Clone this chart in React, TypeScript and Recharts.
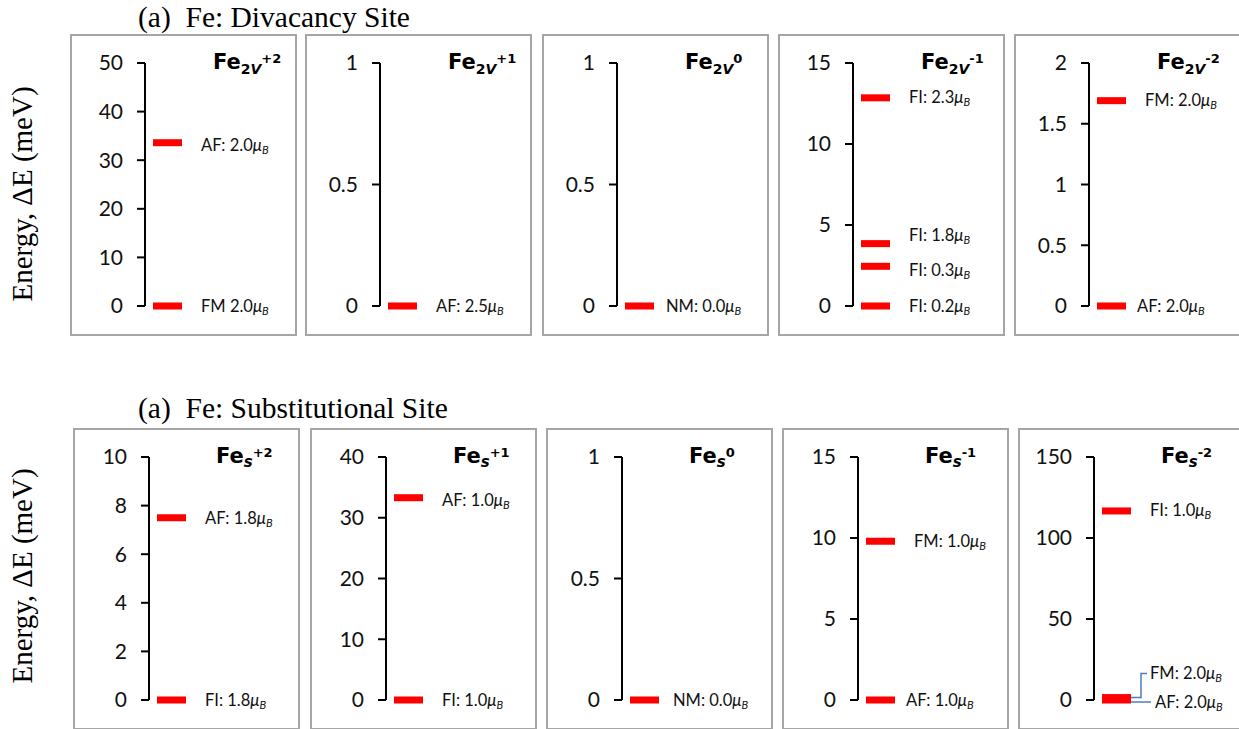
import React from 'react';
import { ScatterChart, Scatter, XAxis, YAxis } from 'recharts';

// Divacancy site (top row)
const divCharges = ['+2', '+1', '0', '-1', '-2'];
const divTicks = [
  [0, 10, 20, 30, 40, 50],
  [0, 0.5, 1],
  [0, 0.5, 1],
  [0, 5, 10, 15],
  [0, 0.5, 1, 1.5, 2],
];
const divEnergies = [[0, 33.6], [0], [0], [0, 2.45, 3.85, 12.85], [0, 1.69]];
const divLabels = [
  ['FM 2.0', 'AF: 2.0'],
  ['AF: 2.5'],
  ['NM: 0.0'],
  ['FI: 0.2', 'FI: 0.3', 'FI: 1.8', 'FI: 2.3'],
  ['AF: 2.0', 'FM: 2.0'],
];

// Substitutional site (bottom row)
const subCharges = ['+2', '+1', '0', '-1', '-2'];
const subTicks = [
  [0, 2, 4, 6, 8, 10],
  [0, 10, 20, 30, 40],
  [0, 0.5, 1],
  [0, 5, 10, 15],
  [0, 50, 100, 150],
];
const subEnergies = [[0, 7.5], [0, 33.3], [0], [0, 9.8], [0, 1.5, 116.7]];
const subLabels = [
  ['FI: 1.8', 'AF: 1.8'],
  ['FI: 1.0', 'AF: 1.0'],
  ['NM: 0.0'],
  ['AF: 1.0', 'FM: 1.0'],
  ['AF: 2.0', 'FM: 2.0', 'FI: 1.0'],
];

// hand-moved data labels (dx, dy) and the ones with leader lines
const LABEL_NUDGE: Record<string, [number, number]> = {
  'div-0-1': [0, 3],
  'div-2-0': [-7, 0],
  'div-3-1': [0, 4],
  'div-3-2': [0, -8],
  'div-4-0': [-8, 0],
  'sub-0-1': [0, 1],
  'sub-1-1': [0, 3],
  'sub-2-0': [-5, 0],
  'sub-3-0': [-8, 0],
  'sub-4-0': [5, 2],
  'sub-4-1': [0, -24],
};
const LEADERS = ['sub-4-0', 'sub-4-1'];

const FONT = 'Lato, "Open Sans", sans-serif';
const SERIF = '"Liberation Serif", "Times New Roman", serif';
const PANEL_W = 227;
const PANEL_H = 302;

const LevelShape = (props: any) => {
  const { cx, cy, payload } = props;
  const [dx, dy] = LABEL_NUDGE[payload.key] || [0, 0];
  const lx = cx + 56 + dx;
  const ly = cy + dy;
  let leader = null;
  if (LEADERS.includes(payload.key)) {
    const pts =
      Math.abs(dy) < 4
        ? `${cx + 37},${ly} ${lx - 4},${ly}`
        : `${cx + 37},${cy} ${cx + 47},${cy} ${cx + 47},${ly} ${lx - 3},${ly}`;
    leader = <polyline points={pts} fill="none" stroke="#4a7ebb" strokeWidth={1.5} />;
  }
  return (
    <g>
      {leader}
      <rect x={cx + 8} y={cy - 3.5} width={29} height={7} fill="#ff0000" />
      <text x={lx} y={ly + 5.5} fontFamily={FONT} fontSize={16.5} fill="#111">
        <tspan>{payload.label}</tspan>
        <tspan fontStyle="italic">μ</tspan>
        <tspan fontStyle="italic" fontSize={11} dy={3}>B</tspan>
      </text>
    </g>
  );
};

interface PanelProps {
  id: string;
  left: number;
  top: number;
  axisX: number;
  ticks: number[];
  energies: number[];
  labels: string[];
  charge: string;
  site: 'div' | 'sub';
}

const Panel: React.FC<PanelProps> = ({ id, left, top, axisX, ticks, energies, labels, charge, site }) => {
  const data = energies.map((e, i) => ({ x: 0, y: e, label: labels[i], key: `${id}-${i}` }));
  const max = ticks[ticks.length - 1];
  return (
    <div style={{ position: 'absolute', left, top, width: PANEL_W, height: PANEL_H }}>
      <ScatterChart width={PANEL_W} height={PANEL_H} margin={{ top: 29, right: 10, bottom: 30, left: 0 }}>
        <XAxis type="number" dataKey="x" domain={[0, 1]} hide />
        <YAxis
          type="number"
          dataKey="y"
          domain={[0, max]}
          ticks={ticks}
          interval={0}
          width={axisX}
          tickSize={8}
          tickMargin={14}
          axisLine={{ stroke: '#000', strokeWidth: 2 }}
          tickLine={{ stroke: '#000', strokeWidth: 2 }}
          tick={{ fill: '#111', fontSize: 21, fontFamily: FONT }}
        />
        <Scatter data={data} shape={LevelShape} isAnimationActive={false} />
      </ScatterChart>
      <svg
        width={PANEL_W}
        height={PANEL_H}
        style={{ position: 'absolute', left: 0, top: 0, pointerEvents: 'none' }}
      >
        <rect x={1} y={1} width={PANEL_W - 2} height={PANEL_H - 2} fill="none" stroke="#a6a6a6" strokeWidth={2} />
        <text x={143} y={35} fontFamily='"DejaVu Sans", sans-serif' fontWeight="bold" fontSize={21} fill="#000">
          Fe
          {site === 'div' ? (
            <>
              <tspan fontSize={14} dy={5}>2</tspan>
              <tspan fontSize={14} fontStyle="italic">V</tspan>
            </>
          ) : (
            <tspan fontSize={15} fontStyle="italic" dy={4}>s</tspan>
          )}
          <tspan fontSize={13} dy={site === 'div' ? -11 : -10}>{charge}</tspan>
        </text>
      </svg>
    </div>
  );
};

const DIV_LEFT = [70, 305, 542, 778, 1014];
const SUB_LEFT = [73, 310, 546, 782, 1018];

export default function App() {
  return (
    <div style={{ position: 'fixed', left: 0, top: 0, width: 1239, height: 729, overflow: 'hidden', background: '#fff' }}>
      <svg width={1239} height={729} style={{ position: 'absolute', left: 0, top: 0 }}>
        <text x={138} y={27} fontFamily={SERIF} fontSize={29.5} fill="#000">
          (a)&nbsp;&nbsp;Fe: Divacancy Site
        </text>
        <text x={138} y={418} fontFamily={SERIF} fontSize={29.5} fill="#000">
          (a)&nbsp;&nbsp;Fe: Substitutional Site
        </text>
        <text x={32} y={194} fontFamily={SERIF} fontSize={29} fill="#000" textAnchor="middle" transform="rotate(-90 32 194)">
          Energy, ΔE (meV)
        </text>
        <text x={32} y={576} fontFamily={SERIF} fontSize={29} fill="#000" textAnchor="middle" transform="rotate(-90 32 576)">
          Energy, ΔE (meV)
        </text>
      </svg>
      {divCharges.map((c, i) => (
        <Panel
          key={`div${i}`}
          id={`div-${i}`}
          left={DIV_LEFT[i]}
          top={34}
          axisX={75}
          ticks={divTicks[i]}
          energies={divEnergies[i]}
          labels={divLabels[i]}
          charge={c}
          site="div"
        />
      ))}
      {subCharges.map((c, i) => (
        <Panel
          key={`sub${i}`}
          id={`sub-${i}`}
          left={SUB_LEFT[i]}
          top={428}
          axisX={76}
          ticks={subTicks[i]}
          energies={subEnergies[i]}
          labels={subLabels[i]}
          charge={c}
          site="sub"
        />
      ))}
    </div>
  );
}
